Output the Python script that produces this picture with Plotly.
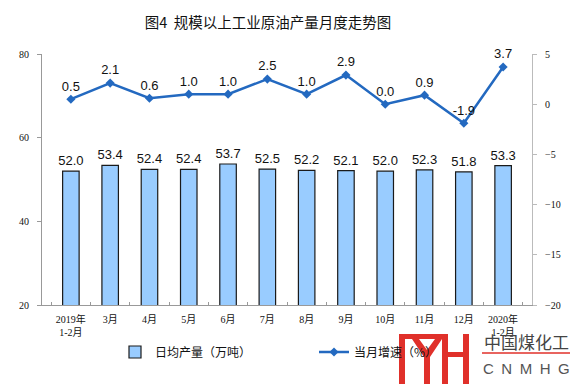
import plotly.graph_objects as go

categories = ["2019年<br>1-2月", "3月", "4月", "5月", "6月", "7月", "8月", "9月",
              "10月", "11月", "12月", "2020年<br>1-2月"]
daily_output = [52.0, 53.4, 52.4, 52.4, 53.7, 52.5, 52.2, 52.1, 52.0, 52.3, 51.8, 53.3]
growth_rate = [0.5, 2.1, 0.6, 1.0, 1.0, 2.5, 1.0, 2.9, 0.0, 0.9, -1.9, 3.7]

W, H = 576, 384
ML, MR, MT, MB = 42, 44, 54, 79
PW, PH = W - ML - MR, H - MT - MB


def px(x):
    return (x - ML) / PW


def py(y):
    return (H - MB - y) / PH


fig = go.Figure()
fig.add_trace(go.Bar(
    x=categories, y=daily_output, name="日均产量（万吨）",
    marker=dict(color="#99CCFF", line=dict(color="#1a1a1a", width=1.2)),
    text=[f"{v:.1f}" for v in daily_output], textposition="outside",
    constraintext="none",
    textfont=dict(family="Liberation Sans, Arial", size=13, color="#111"),
    cliponaxis=False, yaxis="y",
))
fig.add_trace(go.Scatter(
    x=categories, y=growth_rate, name="当月增速（%）", mode="lines+markers+text",
    line=dict(color="#2369C0", width=2.5),
    marker=dict(symbol="diamond", size=7, color="#2369C0"),
    text=[f"{v:.1f}" for v in growth_rate], textposition="top center",
    textfont=dict(family="Liberation Sans, Arial", size=13, color="#111"),
    cliponaxis=False, yaxis="y2",
))

tickfont = dict(family="Liberation Serif, Times New Roman, serif", size=10, color="#111")

# watermark logo
red = "#E0302A"
shapes = []
def rect(x0, y0, x1, y1):
    shapes.append(dict(type="rect", xref="paper", yref="paper", x0=px(x0), x1=px(x1),
                       y0=py(y1), y1=py(y0), fillcolor=red, line=dict(width=0), layer="above"))
rect(399, 334, 405, 390)
rect(399, 334, 447, 339)
rect(442, 334, 448, 390)
rect(448, 352, 463, 357)
rect(463, 334, 469, 390)
pts = [(412, 339), (419, 339), (427, 350), (435, 339), (442, 339), (430, 357),
       (430, 390), (424, 390), (424, 357)]
path = "M " + " L ".join(f"{px(a):.5f},{py(b):.5f}" for a, b in pts) + " Z"
shapes.append(dict(type="path", xref="paper", yref="paper", path=path,
                   fillcolor=red, line=dict(width=0), layer="above"))
shapes.append(dict(type="line", xref="paper", yref="paper", x0=px(482), x1=px(570),
                   y0=py(353), y1=py(353), line=dict(color=red, width=1.5), layer="above"))

annotations = [
    dict(text="中国煤化工", x=px(526), y=py(341), xref="paper", yref="paper",
         showarrow=False, font=dict(family="Noto Sans CJK SC", size=17, color="#444"),
         xanchor="center", yanchor="middle"),
    dict(text="C\u2002N\u2002M\u2002H\u2002G", x=px(526), y=py(368), xref="paper", yref="paper",
         showarrow=False, font=dict(family="Liberation Sans, Arial", size=15, color="#555"),
         xanchor="center", yanchor="middle"),
]

fig.update_layout(
    width=W, height=H,
    margin=dict(l=ML, r=MR, t=MT, b=MB, autoexpand=False),
    paper_bgcolor="white", plot_bgcolor="white",
    title=dict(text="图4  规模以上工业原油产量月度走势图", x=268 / W, xanchor="center",
               y=1 - 22.5 / H, yanchor="middle",
               font=dict(family="Noto Sans CJK SC", size=14.5, color="#111")),
    bargap=0.58,
    showlegend=True,
    legend=dict(orientation="h", x=px(115), y=py(352), xanchor="left", yanchor="middle",
                bgcolor="rgba(0,0,0,0)",
                font=dict(family="Noto Sans CJK SC", size=12, color="#111"),
                entrywidth=154, entrywidthmode="pixels", traceorder="normal"),
    xaxis=dict(showline=True, linecolor="#999", linewidth=1, ticks="inside", ticklen=3,
               tickcolor="#999", tickson="boundaries", ticklabelstandoff=5,
               tickfont=dict(family="Liberation Serif, Noto Sans CJK SC", size=10, color="#111"),
               showgrid=False, fixedrange=True),
    yaxis=dict(range=[20, 80], dtick=20, showline=True, linecolor="#999", linewidth=1,
               ticks="outside", ticklen=4, tickcolor="#999", showgrid=False, zeroline=False,
               tickfont=tickfont, ticklabelstandoff=6),
    yaxis2=dict(range=[-20, 5], dtick=5, overlaying="y", side="right", showline=True,
                linecolor="#bbb", linewidth=1, ticks="outside", ticklen=4, tickcolor="#bbb",
                showgrid=False, zeroline=False, tickfont=tickfont, ticklabelstandoff=6),
    shapes=shapes,
    annotations=annotations,
)

fig.write_html("out.html", config={"displayModeBar": False},
               post_script="document.body.style.margin='0';")
